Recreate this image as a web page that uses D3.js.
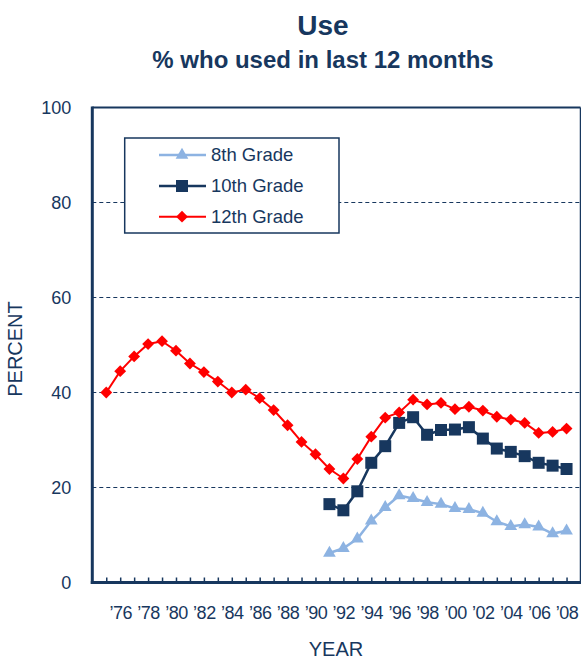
<!DOCTYPE html>
<html>
<head>
<meta charset="utf-8">
<script src="https://cdn.jsdelivr.net/npm/d3@7"></script>
<style>
  html, body { margin: 0; padding: 0; background: #fff; }
  svg { display: block; font-family: "Liberation Sans", Arial, sans-serif; }
</style>
</head>
<body>
<svg id="chart" width="581" height="660"></svg>
<script>
// ---- data ----
const years8 = [1991,1992,1993,1994,1995,1996,1997,1998,1999,2000,2001,2002,2003,2004,2005,2006,2007,2008];
const grade8 = [6.2,7.2,9.2,13.0,15.8,18.3,17.7,16.9,16.5,15.6,15.4,14.6,12.8,11.8,12.2,11.7,10.3,10.9];
const years10 = [1991,1992,1993,1994,1995,1996,1997,1998,1999,2000,2001,2002,2003,2004,2005,2006,2007,2008];
const grade10 = [16.5,15.2,19.2,25.2,28.7,33.6,34.8,31.1,32.1,32.2,32.7,30.3,28.2,27.5,26.6,25.2,24.6,23.9];
const years12 = [1975,1976,1977,1978,1979,1980,1981,1982,1983,1984,1985,1986,1987,1988,1989,1990,1991,1992,1993,1994,1995,1996,1997,1998,1999,2000,2001,2002,2003,2004,2005,2006,2007,2008];
const grade12 = [40.0,44.5,47.6,50.2,50.8,48.8,46.1,44.3,42.3,40.0,40.6,38.8,36.3,33.1,29.6,27.0,23.9,21.9,26.0,30.7,34.7,35.8,38.5,37.5,37.8,36.5,37.0,36.2,34.9,34.3,33.6,31.5,31.7,32.4];
const yTicks = [0,20,40,60,80,100];
const xTickYears = d3.range(1975, 2009);
const xLabelYears = d3.range(1976, 2009, 2);
const seriesNames = ["8th Grade","10th Grade","12th Grade"];
const titleText = "Use";
const subtitleText = "% who used in last 12 months";

// ---- layout ----
const navy = "#17375e";
const colors = { "8th Grade": "#8db3e2", "10th Grade": "#17375e", "12th Grade": "#ff0000" };
const L = 92.3, R = 580.5, T = 107.5, B = 582.5;

const svg = d3.select("#chart");
svg.append("rect").attr("width", 581).attr("height", 660).attr("fill", "#fff");

const x = d3.scaleLinear().domain([1974, 2009]).range([L, R]);
const y = d3.scaleLinear().domain([0, 100]).range([B, T]);

// titles
svg.append("text").attr("x", 323).attr("y", 35).attr("text-anchor", "middle")
  .attr("font-size", 28).attr("font-weight", "bold").attr("fill", navy).text(titleText);
svg.append("text").attr("x", 323).attr("y", 68).attr("text-anchor", "middle")
  .attr("font-size", 24).attr("font-weight", "bold").attr("fill", navy).text(subtitleText);

// gridlines
const grid = svg.append("g");
grid.selectAll("line").data(yTicks.filter(v => v > 0 && v < 100)).join("line")
  .attr("x1", L).attr("x2", R).attr("y1", d => y(d)).attr("y2", d => y(d))
  .attr("stroke", navy).attr("stroke-width", 1.2).attr("stroke-dasharray", "4,3");

// frame top & right
svg.append("line").attr("x1", L).attr("x2", R).attr("y1", y(100)).attr("y2", y(100))
  .attr("stroke", navy).attr("stroke-width", 2);
svg.append("line").attr("x1", R).attr("x2", R).attr("y1", T).attr("y2", B)
  .attr("stroke", navy).attr("stroke-width", 1.5);

// y axis labels
const yAxis = d3.axisLeft(y).tickValues(yTicks).tickSize(0).tickPadding(21);
const gy = svg.append("g").attr("transform", `translate(${L},0)`).call(yAxis);
gy.select(".domain").remove();
gy.selectAll("text").attr("font-size", 18).attr("fill", navy)
  .attr("font-family", '"Liberation Sans", Arial, sans-serif');

// x axis ticks
const xAxisTicks = d3.axisBottom(x).tickValues(xTickYears).tickSizeInner(-5).tickSizeOuter(0).tickFormat("");
const gx = svg.append("g").attr("transform", `translate(0,${B})`).call(xAxisTicks);
gx.select(".domain").remove();
gx.selectAll(".tick line").attr("stroke", navy).attr("stroke-width", 1.5);

// x axis labels
const xAxisLabels = d3.axisBottom(x).tickValues(xLabelYears).tickSize(0).tickPadding(24)
  .tickFormat(d => "\u2019" + String(d).slice(2));
const gxl = svg.append("g").attr("transform", `translate(0,${B})`).call(xAxisLabels);
gxl.select(".domain").remove();
gxl.selectAll("text").attr("font-size", 18).attr("fill", navy)
  .attr("font-family", '"Liberation Sans", Arial, sans-serif').attr("letter-spacing", "-0.5");

// left and bottom axis lines
svg.append("line").attr("x1", L).attr("x2", L).attr("y1", T - 1).attr("y2", B + 1.5)
  .attr("stroke", navy).attr("stroke-width", 3);
svg.append("line").attr("x1", L - 1.5).attr("x2", R + 0.75).attr("y1", B).attr("y2", B)
  .attr("stroke", navy).attr("stroke-width", 3);

// axis titles
svg.append("text").attr("x", 336).attr("y", 656).attr("text-anchor", "middle")
  .attr("font-size", 20).attr("fill", navy).text("YEAR");
svg.append("text").attr("transform", "translate(22,349) rotate(-90)").attr("text-anchor", "middle")
  .attr("font-size", 20).attr("fill", navy).text("PERCENT");

// series
const series = [
  { name: "8th Grade", years: years8, values: grade8, symbol: d3.symbolTriangle, size: 70, rot: 0, width: 2.5 },
  { name: "10th Grade", years: years10, values: grade10, symbol: d3.symbolSquare, size: 144, rot: 0, width: 2.5 },
  { name: "12th Grade", years: years12, values: grade12, symbol: d3.symbolSquare, size: 70, rot: 45, width: 2 }
];
const line = d3.line().x(d => x(d[0])).y(d => y(d[1]));
series.forEach(s => {
  const pts = s.years.map((yr, i) => [yr, s.values[i]]);
  const g = svg.append("g");
  g.append("path").attr("d", line(pts)).attr("fill", "none")
    .attr("stroke", colors[s.name]).attr("stroke-width", s.width);
  g.selectAll("path.m").data(pts).join("path").attr("class", "m")
    .attr("d", d3.symbol().type(s.symbol).size(s.size))
    .attr("transform", d => `translate(${x(d[0])},${y(d[1])}) rotate(${s.rot})`)
    .attr("fill", colors[s.name]);
});

// legend
const lg = svg.append("g");
lg.append("rect").attr("x", 124.7).attr("y", 138).attr("width", 214.3).attr("height", 95)
  .attr("fill", "#fff").attr("stroke", navy).attr("stroke-width", 1.5);
const rowY = [155, 186, 216.7];
series.forEach((s, i) => {
  lg.append("line").attr("x1", 159).attr("x2", 206).attr("y1", rowY[i]).attr("y2", rowY[i])
    .attr("stroke", colors[s.name]).attr("stroke-width", s.width);
  lg.append("path").attr("d", d3.symbol().type(s.symbol).size(s.size))
    .attr("transform", `translate(182,${rowY[i]}) rotate(${s.rot})`).attr("fill", colors[s.name]);
  lg.append("text").attr("x", 211).attr("y", rowY[i]).attr("dy", "0.35em")
    .attr("font-size", 18.5).attr("fill", navy).text(seriesNames[i]);
});
</script>
</body>
</html>
